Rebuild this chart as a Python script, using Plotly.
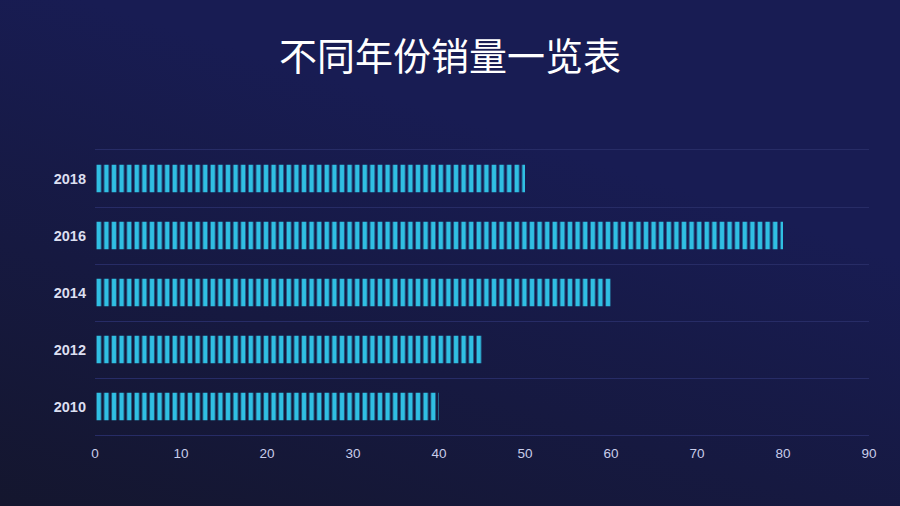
import base64

import plotly.graph_objects as go

years = ["2010", "2012", "2014", "2016", "2018"]
sales = [40, 45, 60, 80, 50]
x_ticks = [0, 10, 20, 30, 40, 50, 60, 70, 80, 90]

# Background gradient (dark bottom-left to navy top-right)
svg = (
    '<svg xmlns="http://www.w3.org/2000/svg" width="900" height="506" preserveAspectRatio="none">'
    '<defs><linearGradient id="g" x1="0" y1="1" x2="0.45" y2="0.2">'
    '<stop offset="0" stop-color="#14162e"/>'
    '<stop offset="1" stop-color="#181c53"/>'
    "</linearGradient></defs>"
    '<rect width="900" height="506" fill="url(#g)"/></svg>'
)
bg_uri = "data:image/svg+xml;base64," + base64.b64encode(svg.encode()).decode()

fig = go.Figure()

fig.add_trace(
    go.Bar(
        x=sales,
        y=years,
        orientation="h",
        width=0.48,
        marker=dict(
            color="#2cb8e0",
            line=dict(width=0),
            pattern=dict(
                shape="|",
                size=7.6,
                solidity=0.6,
                fgcolor="#30bfe3",
                bgcolor="rgba(0,0,0,0)",
                fillmode="replace",
            ),
        ),
        hoverinfo="x+y",
        showlegend=False,
    )
)

grid = "#272c66"
plot_w, plot_h = 774, 285
fig.update_layout(
    width=900,
    height=506,
    margin=dict(l=95, r=31, t=150, b=71),
    paper_bgcolor="#171b4f",
    plot_bgcolor="rgba(0,0,0,0)",
    title=dict(
        text="不同年份销量一览表",
        x=0.5,
        xanchor="center",
        y=0.887,
        yanchor="middle",
        font=dict(family="Noto Sans CJK SC", size=38, color="#ffffff"),
    ),
    xaxis=dict(
        range=[0, 90],
        tickvals=x_ticks,
        showgrid=False,
        zeroline=False,
        showline=True,
        linecolor=grid,
        linewidth=1,
        mirror=True,
        ticks="",
        ticklabelstandoff=6,
        tickfont=dict(family="Liberation Sans", size=13.5, color="#c9cdea"),
    ),
    yaxis=dict(
        type="category",
        categoryorder="array",
        categoryarray=years,
        tickson="boundaries",
        showgrid=True,
        gridcolor=grid,
        gridwidth=1,
        showline=False,
        zeroline=False,
        ticks="",
        ticklabelstandoff=8,
        tickfont=dict(family="Liberation Sans", size=14.5, color="#dcdff0", weight="bold"),
    ),
    images=[
        dict(
            source=bg_uri,
            xref="paper",
            yref="paper",
            x=-95 / plot_w,
            y=1 + 150 / plot_h,
            sizex=900 / plot_w,
            sizey=506 / plot_h,
            sizing="stretch",
            xanchor="left",
            yanchor="top",
            layer="below",
        )
    ],
)

fig.write_html(
    "out.html",
    config={"displayModeBar": False},
    post_script="document.body.style.margin='0';",
)
